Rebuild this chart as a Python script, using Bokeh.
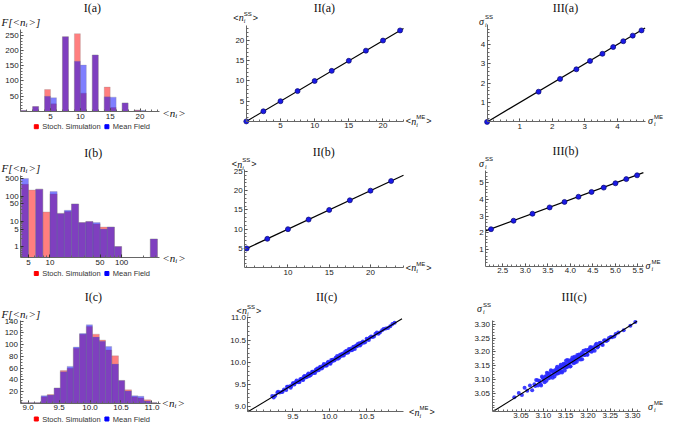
import numpy as np
from bokeh.plotting import figure
from bokeh.layouts import row, column
from bokeh.models import Range1d, FixedTicker, PrintfTickFormatter, CustomJSTickFormatter
from bokeh.core.properties import value
from bokeh.embed import file_html
from bokeh.resources import INLINE

# ---------------- data ----------------
# I(a): histogram, bins of width 1 (left edges), counts
ia_left = [0, 2, 4, 5, 7, 9, 10, 12, 14, 15, 17, 19, 20]
ia_ss = [3, 16, 72, 25, 245, 255, 60, 185, 80, 13, 28, 5, 2]
ia_mf = [3, 16, 50, 45, 245, 165, 152, 185, 48, 47, 28, 3, 3]

# I(b): log-binned histogram
ib_left = [3.98, 5.01, 6.31, 7.94, 10.0, 12.59, 15.85, 19.95, 25.12, 31.62, 39.81, 50.12, 63.10, 79.43, 251.2]
ib_right = [5.01, 6.31, 7.94, 10.0, 12.59, 15.85, 19.95, 25.12, 31.62, 39.81, 50.12, 63.10, 79.43, 100.0, 316.2]
ib_ss = [305, 180, 195, 24, 126, 21, 25, 50, 9, 10, 8, 6, 6, 1, 2]
ib_mf = [520, 0, 195, 0, 156, 21, 28, 50, 9, 10, 9, 5, 6, 1, 2]

# I(c): histogram
ic_left = [8.90, 9.00, 9.10, 9.21, 9.31, 9.42, 9.52, 9.63, 9.73, 9.83, 9.94, 10.04, 10.15,
           10.25, 10.35, 10.46, 10.56, 10.67, 10.77, 10.87, 10.98]
ic_right = [9.00, 9.10, 9.21, 9.31, 9.42, 9.52, 9.63, 9.73, 9.83, 9.94, 10.04, 10.15, 10.25,
            10.35, 10.46, 10.56, 10.67, 10.77, 10.87, 10.98, 11.08]
ic_ss = [1, 1, 1, 11, 15, 26, 56, 60, 94, 118, 131, 118, 108, 91, 81, 39, 23, 11, 9, 6, 1]
ic_mf = [1, 1, 1, 13, 14, 26, 54, 63, 96, 119, 134, 113, 106, 97, 67, 39, 21, 13, 12, 4, 1]

# II: mean values, master equation vs stochastic simulation
iia_me = [0, 2.5, 5, 7.5, 10, 12.5, 15, 17.5, 20, 22.5]
iia_ss = [0, 2.5, 5, 7.5, 10, 12.5, 15, 17.5, 20, 22.5]
iib_me = [5, 7.5, 10, 12.5, 15, 17.5, 20, 22.5]
iib_ss = [5, 7.5, 10, 12.5, 15, 17.5, 20, 22.5]
iic_me = [9.22, 9.26, 9.29, 9.32, 9.35, 9.38, 9.41, 9.43, 9.46, 9.48, 9.50, 9.52, 9.54, 9.56, 9.58,
          9.60, 9.62, 9.63, 9.65, 9.67, 9.68, 9.70, 9.72, 9.73, 9.75, 9.76, 9.78, 9.79, 9.81, 9.82,
          9.84, 9.85, 9.87, 9.88, 9.90, 9.91, 9.93, 9.94, 9.96, 9.97, 9.99, 10.00, 10.02, 10.03,
          10.05, 10.06, 10.08, 10.09, 10.11, 10.12, 10.14, 10.15, 10.17, 10.18, 10.20, 10.22,
          10.23, 10.25, 10.27, 10.29, 10.31, 10.33, 10.35, 10.37, 10.40, 10.42, 10.45, 10.48,
          10.51, 10.54, 10.58, 10.62, 10.66, 10.71, 10.76, 10.82, 10.88,
          9.24, 9.30, 9.36, 9.42, 9.47, 9.51, 9.55, 9.59, 9.61, 9.64, 9.66, 9.69, 9.71, 9.74,
          9.77, 9.80, 9.83, 9.86, 9.89, 9.92, 9.95, 9.98, 10.01, 10.04, 10.07, 10.10, 10.13,
          10.16, 10.19, 10.21, 10.24, 10.26, 10.28, 10.30, 10.32, 10.34, 10.36, 10.38, 10.41,
          10.43, 10.46, 10.50, 10.53, 10.56, 10.60, 10.64, 10.68, 10.73, 10.79, 10.85]
iic_ss = [9.24, 9.25, 9.32, 9.32, 9.33, 9.39, 9.38, 9.45, 9.46, 9.47, 9.53, 9.50, 9.55, 9.56, 9.55,
          9.62, 9.63, 9.61, 9.68, 9.66, 9.68, 9.72, 9.69, 9.74, 9.74, 9.79, 9.76, 9.79, 9.83, 9.81,
          9.85, 9.82, 9.90, 9.88, 9.88, 9.93, 9.92, 9.95, 9.93, 9.99, 9.99, 9.98, 10.05, 10.02,
          10.06, 10.04, 10.10, 10.09, 10.08, 10.13, 10.17, 10.14, 10.15, 10.20, 10.20, 10.21,
          10.26, 10.22, 10.28, 10.31, 10.29, 10.33, 10.36, 10.36, 10.43, 10.40, 10.47, 10.45,
          10.51, 10.55, 10.57, 10.64, 10.64, 10.72, 10.76, 10.81, 10.89,
          9.21, 9.34, 9.34, 9.45, 9.43, 9.53, 9.59, 9.56, 9.62, 9.60, 9.69, 9.67, 9.75, 9.71,
          9.79, 9.76, 9.86, 9.87, 9.86, 9.96, 9.93, 10.01, 9.97, 10.06, 10.06, 10.14, 10.10,
          10.18, 10.15, 10.24, 10.22, 10.30, 10.27, 10.27, 10.35, 10.30, 10.38, 10.41, 10.38,
          10.44, 10.44, 10.53, 10.50, 10.58, 10.58, 10.67, 10.67, 10.75, 10.77, 10.86]

# III: standard deviations
iiia_me = [0, 1.58, 2.24, 2.74, 3.16, 3.54, 3.87, 4.18, 4.47, 4.74]
iiia_ss = [0, 1.56, 2.22, 2.72, 3.15, 3.52, 3.87, 4.17, 4.46, 4.73]
iiib_me = [2.24, 2.74, 3.16, 3.54, 3.87, 4.18, 4.47, 4.74, 5.00, 5.24, 5.48]
iiib_ss = [2.22, 2.73, 3.15, 3.53, 3.86, 4.17, 4.46, 4.72, 4.98, 5.23, 5.46]
iiic_me = [3.035, 3.045, 3.052, 3.058, 3.064, 3.070, 3.075, 3.080, 3.084, 3.088, 3.092, 3.095,
           3.098, 3.101, 3.104, 3.107, 3.110, 3.112, 3.115, 3.117, 3.120, 3.122, 3.125, 3.127,
           3.130, 3.132, 3.134, 3.137, 3.139, 3.141, 3.143, 3.146, 3.148, 3.150, 3.152, 3.154,
           3.157, 3.159, 3.161, 3.163, 3.166, 3.168, 3.170, 3.172, 3.175, 3.177, 3.180, 3.182,
           3.185, 3.187, 3.190, 3.193, 3.196, 3.199, 3.202, 3.205, 3.208, 3.211, 3.215, 3.219,
           3.223, 3.228, 3.233, 3.238, 3.244, 3.251, 3.259, 3.268, 3.280, 3.295, 3.306,
           3.082, 3.087, 3.091, 3.094, 3.097, 3.100, 3.103, 3.106, 3.108, 3.111, 3.113, 3.116,
           3.118, 3.121, 3.123, 3.126, 3.128, 3.131, 3.133, 3.136, 3.138, 3.140, 3.142, 3.145,
           3.147, 3.149, 3.151, 3.153, 3.156, 3.158, 3.160, 3.162, 3.165, 3.167, 3.169, 3.171,
           3.174, 3.176, 3.179, 3.181, 3.184, 3.186, 3.189, 3.192, 3.195, 3.198, 3.201, 3.204,
           3.207, 3.210, 3.213, 3.217, 3.221, 3.226, 3.231, 3.236, 3.241, 3.247, 3.254, 3.262]
iiic_ss = [3.038, 3.053, 3.046, 3.072, 3.061, 3.080, 3.063, 3.085, 3.100, 3.080, 3.094, 3.080,
           3.109, 3.097, 3.111, 3.097, 3.123, 3.112, 3.108, 3.135, 3.118, 3.131, 3.112, 3.131,
           3.142, 3.123, 3.140, 3.132, 3.154, 3.130, 3.144, 3.154, 3.134, 3.160, 3.149, 3.171,
           3.151, 3.162, 3.149, 3.172, 3.171, 3.160, 3.183, 3.170, 3.165, 3.184, 3.191, 3.177,
           3.187, 3.174, 3.204, 3.189, 3.204, 3.190, 3.208, 3.217, 3.201, 3.212, 3.204, 3.229,
           3.220, 3.233, 3.225, 3.242, 3.242, 3.254, 3.255, 3.270, 3.278, 3.294, 3.307,
           3.078, 3.099, 3.097, 3.085, 3.112, 3.103, 3.092, 3.114, 3.126, 3.105, 3.123, 3.114,
           3.132, 3.108, 3.128, 3.135, 3.121, 3.147, 3.133, 3.126, 3.149, 3.144, 3.127, 3.158,
           3.154, 3.144, 3.170, 3.145, 3.158, 3.170, 3.148, 3.168, 3.180, 3.163, 3.178, 3.162,
           3.177, 3.189, 3.173, 3.189, 3.173, 3.196, 3.194, 3.189, 3.207, 3.191, 3.208, 3.203,
           3.217, 3.204, 3.217, 3.225, 3.216, 3.232, 3.228, 3.241, 3.239, 3.250, 3.253, 3.264]

# tick labels
ia_xt = [5, 10, 15, 20]; ia_yt = [50, 100, 150, 200, 250]
ib_xt = [5, 10, 50, 100]; ib_yt = [1, 5, 10, 50, 100, 500]
ic_xt = [9.0, 9.5, 10.0, 10.5, 11.0]; ic_yt = [20, 40, 60, 80, 100, 120, 140]
iia_t = [5, 10, 15, 20]
iib_xt = [10, 15, 20]; iib_yt = [5, 10, 15, 20, 25]
iic_xt = [9.5, 10.0, 10.5]; iic_yt = [9.0, 9.5, 10.0, 10.5, 11.0]
iiia_t = [1, 2, 3, 4]
iiib_xt = [2.5, 3.0, 3.5, 4.0, 4.5, 5.0, 5.5]; iiib_yt = [1, 2, 3, 4, 5]
iiic_t = [3.05, 3.10, 3.15, 3.20, 3.25, 3.30]

# ---------------- helpers ----------------
SANS = "Liberation Sans"
SERIF = "Liberation Serif"
RED = "#ff0000"
BLUE = "#0000ff"
INK = "#111111"


def mk(box, axpx, xr, yr, xlog=False, ylog=False):
    """box: figure (ox, oy, W, H) in layout px; axpx: axis extents (left, right, top, bottom) px;
    xr/yr: data extents of the drawn axes."""
    ox, oy, W, H = box
    al, ar, at, ab = axpx
    fx = np.log10 if xlog else (lambda v: v)
    gx = (lambda v: 10 ** v) if xlog else (lambda v: v)
    fy = np.log10 if ylog else (lambda v: v)
    gy = (lambda v: 10 ** v) if ylog else (lambda v: v)
    tx0, tx1 = fx(xr[0]), fx(xr[1])
    ty0, ty1 = fy(yr[0]), fy(yr[1])
    upx = (tx1 - tx0) / (ar - al)
    upy = (ty1 - ty0) / (ab - at)
    xs, xe = tx0 - (al - ox) * upx, tx1 + (ox + W - ar) * upx
    ys, ye = ty0 - (oy + H - ab) * upy, ty1 + (at - oy) * upy
    p = figure(width=W, height=H, x_range=Range1d(gx(xs), gx(xe)), y_range=Range1d(gy(ys), gy(ye)),
               x_axis_type="log" if xlog else "linear", y_axis_type="log" if ylog else "linear",
               output_backend="svg", toolbar_location=None, title=None, min_border=0,
               min_border_left=0, min_border_right=0, min_border_top=0, min_border_bottom=0)
    p.outline_line_color = None
    p.xgrid.visible = False
    p.ygrid.visible = False
    p.background_fill_color = "white"
    p.border_fill_color = "white"
    p.xaxis.fixed_location = yr[0]
    p.xaxis.bounds = (xr[0], xr[1])
    p.yaxis.fixed_location = xr[0]
    p.yaxis.bounds = (yr[0], yr[1])
    for ax in p.axis:
        ax.axis_line_color = "#666666"
        ax.axis_line_width = 1
        ax.major_tick_line_color = "#333333"
        ax.major_tick_in = 3
        ax.major_tick_out = 0
        ax.minor_tick_line_color = "#666666"
        ax.minor_tick_in = 2
        ax.minor_tick_out = 0
        ax.major_label_text_font = SANS
        ax.major_label_text_font_size = "8px"
        ax.major_label_text_color = "#222222"
        ax.major_label_standoff = 2
    X = lambda px: gx(tx0 + (px - al) * upx)
    Y = lambda py: gy(ty0 + (ab - py) * upy)
    return p, X, Y


def ticks(axis, major, minor, fmt=None):
    axis.ticker = FixedTicker(ticks=list(major), minor_ticks=[float(v) for v in minor])
    if fmt is not None:
        axis.formatter = fmt


def put(P, px, py, text, size=8, font=SANS, style="normal", align="left", color=INK):
    p, X, Y = P
    p.text(x=[X(px)], y=[Y(py)], text=[text], text_font=value(font),
           text_font_size=value(f"{size}px"), text_font_style=value(style),
           text_align=value(align), text_baseline=value("middle"), text_color=color)


def title(P, px, py, text):
    put(P, px, py, text, 12, SERIF, align="center")


def flabel(P, px, py):
    put(P, px, py, "F[<n", 11, SERIF, "italic")
    put(P, px + 24, py + 3, "i", 7, SERIF, "italic")
    put(P, px + 27, py, ">]", 11, SERIF, "italic")


def nxlabel(P, px, py):
    put(P, px, py, "<n", 11, SERIF, "italic")
    put(P, px + 13, py + 3, "i", 7, SERIF, "italic")
    put(P, px + 16, py, ">", 11, SERIF, "italic")


def nsup(P, px, py, sup):
    put(P, px, py, "<", 9, SANS)
    put(P, px + 5.5, py, "n", 10, SERIF, "italic")
    put(P, px + 10.5, py + 3.5, "i", 6, SERIF, "italic")
    put(P, px + 10.5, py - 4, sup, 6, SANS)
    put(P, px + (19.5 if sup == "SS" else 20.5), py, ">", 9, SANS)


def sigsup(P, px, py, sup):
    put(P, px, py, "σ", 10, SERIF, "italic")
    put(P, px + 6, py + 3.5, "i", 6, SERIF, "italic")
    put(P, px + 6, py - 4, sup, 6, SANS)


def legend(P, py):
    p, X, Y = P
    p.scatter([X(35.8)], [Y(py)], marker="square", size=4, color=RED)
    put(P, 41.7, py, "Stoch. Simulation", 7.5, SANS, color="#333333")
    p.scatter([X(106.4)], [Y(py)], marker="square", size=4, color=BLUE)
    put(P, 112.3, py, "Mean Field", 7.5, SANS, color="#333333")


def hist(P, left, right, ss, mf, bottom):
    p = P[0]
    kw = dict(line_color="#888888", line_alpha=0.45, line_width=0.6, fill_alpha=0.5)
    l1 = [l for l, c in zip(left, ss) if c > 0]
    r1 = [r for r, c in zip(right, ss) if c > 0]
    t1 = [c for c in ss if c > 0]
    l2 = [l for l, c in zip(left, mf) if c > 0]
    r2 = [r for r, c in zip(right, mf) if c > 0]
    t2 = [c for c in mf if c > 0]
    p.quad(left=l1, right=r1, bottom=bottom, top=t1, fill_color=RED, **kw)
    p.quad(left=l2, right=r2, bottom=bottom, top=t2, fill_color=BLUE, **kw)


def pts(P, x, y, xr):
    p = P[0]
    p.line([xr[0], xr[1]], [xr[0], xr[1]], line_color="black", line_width=1.2)
    p.scatter(x, y, size=5, fill_color="#1a1ae6", line_color="#0a0a70", line_width=0.7)


def cloud(P, x, y, xr):
    p = P[0]
    p.scatter(x, y, size=4, fill_color="#2a2aff", line_color=None, fill_alpha=0.9)
    p.line([xr[0], xr[1]], [xr[0], xr[1]], line_color="black", line_width=1.1)


# ---------------- layout boxes ----------------
C = [(0, 225), (225, 219), (444, 225)]
R = [(0, 145), (145, 142), (287, 136)]


def box(c, r):
    return (C[c][0], R[r][0], C[c][1], R[r][1])


# ---------------- I(a) ----------------
P = mk(box(0, 0), (20.2, 159.2, 28.9, 111.0), (0, 23.3), (0, 269))
p_ia = P[0]
hist(P, ia_left, [l + 1 for l in ia_left], ia_ss, ia_mf, 0)
ticks(p_ia.xaxis[0], ia_xt, np.arange(1, 24, 1))
ticks(p_ia.yaxis[0], ia_yt, np.arange(10, 270, 10))
title(P, 91.8, 7, "I(a)")
flabel(P, 1, 21.7)
nxlabel(P, 161.8, 112.5)
legend(P, 126.2)

# ---------------- I(b) ----------------
yb0 = 0.365
P = mk(box(0, 1), (20.2, 159.2, 175.1, 257.0), (3.9, 340), (yb0, 677), True, True)
p_ib = P[0]
hist(P, ib_left, ib_right, ib_ss, ib_mf, yb0)
ticks(p_ib.xaxis[0], ib_xt, [4, 6, 7, 8, 9, 20, 30, 40, 60, 70, 80, 90, 200, 300],
      CustomJSTickFormatter(code="return String(tick);"))
ticks(p_ib.yaxis[0], ib_yt, [0.4, 0.5, 0.6, 0.7, 0.8, 0.9, 2, 3, 4, 6, 7, 8, 9, 20, 30, 40,
                             60, 70, 80, 90, 200, 300, 400, 600],
      CustomJSTickFormatter(code="return String(tick);"))
title(P, 92.8, 152, "I(b)")
flabel(P, 1, 167.7)
nxlabel(P, 161.8, 257.8)
legend(P, 273)

# ---------------- I(c) ----------------
P = mk(box(0, 2), (19.5, 159.5, 319.6, 402.8), (8.869, 11.13), (0, 142))
p_ic = P[0]
hist(P, ic_left, ic_right, ic_ss, ic_mf, 0)
ticks(p_ic.xaxis[0], ic_xt, np.arange(8.9, 11.13, 0.1), PrintfTickFormatter(format="%.1f"))
ticks(p_ic.yaxis[0], ic_yt, np.arange(5, 142, 5))
title(P, 92.8, 296.8, "I(c)")
flabel(P, 1, 313.6)
nxlabel(P, 161.1, 402.8)
legend(P, 418.5)

# ---------------- II(a) ----------------
xr = (0, 23.0)
P = mk(box(1, 0), (245.8, 403.0, 25.1, 120.9), xr, (0, 23.7))
p_iia = P[0]
pts(P, iia_me, iia_ss, xr)
ticks(p_iia.xaxis[0], iia_t, np.arange(1, 23.5, 1))
ticks(p_iia.yaxis[0], iia_t, np.arange(1, 23.7, 1))
title(P, 323.9, 7, "II(a)")
nsup(P, 232.7, 17.3, "SS")
nsup(P, 405.3, 120.9, "ME")

# ---------------- II(b) ----------------
xr = (4.76, 24.0)
P = mk(box(1, 1), (244.2, 403.0, 168.6, 267.2), xr, (0, 25.6))
p_iib = P[0]
pts(P, iib_me, iib_ss, xr)
ticks(p_iib.xaxis[0], iib_xt, np.arange(5, 24.5, 1))
ticks(p_iib.yaxis[0], iib_yt, np.arange(1, 25.6, 1))
title(P, 323.3, 151.8, "II(b)")
nsup(P, 231.2, 163.8, "SS")
nsup(P, 405.3, 267.4, "ME")

# ---------------- II(c) ----------------
xr = (8.89, 11.0)
P = mk(box(1, 2), (247.4, 403.0, 316.4, 411.2), xr, (8.89, 11.02))
p_iic = P[0]
cloud(P, iic_me, iic_ss, (8.89, 10.98))
ticks(p_iic.xaxis[0], iic_xt, np.arange(8.9, 11.0, 0.1), PrintfTickFormatter(format="%.1f"))
ticks(p_iic.yaxis[0], iic_yt, np.arange(8.9, 11.02, 0.1), PrintfTickFormatter(format="%.1f"))
title(P, 326.2, 296.8, "II(c)")
nsup(P, 236, 310.3, "SS")
nsup(P, 408.5, 411.9, "ME")

# ---------------- III(a) ----------------
xr = (0, 4.85)
P = mk(box(2, 0), (486.6, 644.6, 24.1, 121.4), xr, (0, 5.03))
p_iiia = P[0]
pts(P, iiia_me, iiia_ss, xr)
ticks(p_iiia.xaxis[0], iiia_t, np.arange(0.2, 4.85, 0.2))
ticks(p_iiia.yaxis[0], iiia_t, np.arange(0.2, 5.0, 0.2))
title(P, 565, 7, "III(a)")
sigsup(P, 478.5, 20.9, "SS")
sigsup(P, 647.5, 120.4, "ME")

# ---------------- III(b) ----------------
xr = (2.12, 5.62)
P = mk(box(2, 1), (485.1, 642.9, 170.3, 265.7), xr, (0, 5.73))
p_iiib = P[0]
pts(P, iiib_me, iiib_ss, xr)
ticks(p_iiib.xaxis[0], iiib_xt, np.arange(2.2, 5.62, 0.1), PrintfTickFormatter(format="%.1f"))
ticks(p_iiib.yaxis[0], iiib_yt, np.arange(0.2, 5.7, 0.2))
title(P, 565, 150.3, "III(b)")
sigsup(P, 478.5, 162.8, "SS")
sigsup(P, 645, 265, "ME")

# ---------------- III(c) ----------------
xr = (2.985, 3.317)
P = mk(box(2, 2), (491.5, 639.7, 319.6, 410.5), xr, (2.989, 3.314))
p_iiic = P[0]
cloud(P, iiic_me, iiic_ss, (2.989, 3.31))
ticks(p_iiic.xaxis[0], iiic_t, np.arange(2.99, 3.317, 0.01), PrintfTickFormatter(format="%.2f"))
ticks(p_iiic.yaxis[0], iiic_t, np.arange(2.99, 3.314, 0.01), PrintfTickFormatter(format="%.2f"))
title(P, 573.7, 296.8, "III(c)")
sigsup(P, 476.6, 308.4, "SS")
sigsup(P, 647.5, 406.2, "ME")

layout = column(
    row(p_ia, p_iia, p_iiia),
    row(p_ib, p_iib, p_iiib),
    row(p_ic, p_iic, p_iiic),
)

open("out.html", "w").write(file_html(layout, INLINE))
